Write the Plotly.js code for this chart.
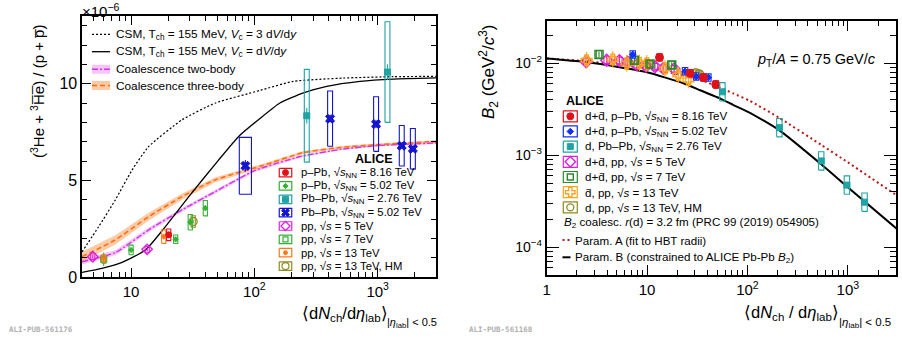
<!DOCTYPE html>
<html><head><meta charset="utf-8">
<script src="https://cdn.plot.ly/plotly-3.0.1.min.js"></script>
<style>html,body{margin:0;padding:0;background:#fff;}#chart{width:902px;height:344px;}</style>
</head><body><div id="chart"></div>
<script>
// ================= DATA : left panel  (3He+3He-bar)/(p+p-bar)  [x 1e-6] =================
const csm3_x = [4.0, 5.47, 7.46, 10.2, 13.9, 25.9, 48.3, 111, 207, 527, 1340, 3000];
const csm3_y = [1.30, 2.61, 3.99, 5.54, 6.75, 8.13, 9.00, 9.65, 10.12, 10.29, 10.36, 10.38];
const csm1_x = [4.0, 5.8, 8.46, 13.1, 19.0, 29.4, 51.4, 74.6, 111, 161, 250, 386, 719, 1340, 3000];
const csm1_y = [0.24, 0.45, 0.76, 1.40, 2.61, 4.16, 6.06, 7.27, 8.20, 9.00, 9.52, 9.86, 10.12, 10.24, 10.30];
const coal2_x = [4.0, 7.46, 13.9, 25.9, 48.3, 100, 235, 500, 1000, 3000];
const coal2_y = [0.79, 1.26, 2.44, 3.47, 4.42, 5.50, 6.23, 6.60, 6.80, 6.93];
const coal2_e = [0.14, 0.13, 0.12, 0.10, 0.09, 0.08, 0.06, 0.05, 0.05, 0.05];
const coal3_x = [4.0, 7.46, 13.9, 25.9, 48.3, 115, 250, 500, 977, 3000];
const coal3_y = [1.05, 1.92, 3.12, 4.16, 5.03, 5.75, 6.44, 6.70, 6.84, 7.01];
const coal3_e = [0.26, 0.24, 0.20, 0.16, 0.13, 0.10, 0.08, 0.07, 0.06, 0.06];

const L_ppb816_x = [20.2],  L_ppb816_y = [2.18], L_ppb816_st = [0.15], L_ppb816_sy = [0.30];
const L_ppb502_x = [10.0, 23.0, 30.2, 40.0], L_ppb502_y = [1.40, 1.95, 2.83, 3.56];
const L_ppb502_st = [0.10, 0.10, 0.15, 0.15], L_ppb502_sy = [0.25, 0.22, 0.40, 0.40];
const L_pbpb276_x = [266, 1200], L_pbpb276_y = [8.34, 10.6], L_pbpb276_st = [0.4, 0.4], L_pbpb276_sy = [2.40, 2.60];
const L_pbpb502_x = [84.5, 411, 970, 1567, 1928], L_pbpb502_y = [5.75, 8.19, 7.91, 6.79, 6.63];
const L_pbpb502_st = [0.30, 0.20, 0.20, 0.15, 0.15], L_pbpb502_sy = [1.47, 1.43, 1.41, 1.05, 1.05];
const L_pbpb502_xsys = [0.12, 0, 0, 0, 0];   // relative uncertainty on multiplicity
const L_pp5_x = [4.89, 13.5], L_pp5_y = [1.05, 1.43], L_pp5_st = [0.10, 0.10], L_pp5_sy = [0.15, 0.15];
const L_pp7_x = [6.0], L_pp7_y = [0.92], L_pp7_st = [0.35], L_pp7_sy = [0.20];
const L_pp13_x = [6.0, 18.4], L_pp13_y = [0.95, 2.09], L_pp13_st = [0.10, 0.15], L_pp13_sy = [0.18, 0.35];
const L_pp13hm_x = [31.9], L_pp13hm_y = [2.87], L_pp13hm_st = [0.10], L_pp13hm_sy = [0.30];

// ================= DATA : right panel  B2 (GeV^2/c^3) =================
const parA_x = [1, 2.32, 4.99, 10, 23, 40, 72.6, 106, 208, 543, 1000, 3040];
const parA_y = [0.0113, 0.0106, 0.0097, 0.0088, 0.0074, 0.0062, 0.0047, 0.0039, 0.00255, 0.0013, 0.00084, 0.00037];
const parB_x = [1, 2.32, 4.99, 10, 23, 33.8, 55.6, 72.6, 106, 207, 543, 979, 3100];
const parB_y = [0.0113, 0.0104, 0.0092, 0.0080, 0.00607, 0.0051, 0.00406, 0.00352, 0.0029, 0.00188, 0.00080, 0.00046, 0.000158];

const R_ppb816_x = [13.3, 26.8, 36.4, 48.4], R_ppb816_y = [0.0116, 0.0078, 0.0070, 0.0059];
const R_ppb502_x = [7.2, 23.9, 30.8, 40.8],  R_ppb502_y = [0.0125, 0.0082, 0.0072, 0.0070];
const R_pbpb_x = [56.3, 208, 543, 979, 1468], R_pbpb_y = [0.0049, 0.0020, 0.00087, 0.000475, 0.00031];
const R_pp5_x = [2.47, 3.96, 5.3, 6.42, 7.89, 9.77, 12.0, 14.5, 18.6];
const R_pp5_y = [0.0104, 0.0108, 0.0107, 0.0103, 0.0096, 0.0093, 0.0092, 0.0088, 0.0087];
const R_pp7_x = [3.32, 7.48, 10.7, 17.6], R_pp7_y = [0.0125, 0.0108, 0.0098, 0.0096];
const R_pp13_x = [2.5, 4.55, 6.27, 8.39, 9.93, 15.1, 20.5, 25.8];
const R_pp13_y = [0.0108, 0.0110, 0.0100, 0.0101, 0.0100, 0.0088, 0.00745, 0.0066];
const R_pp13hm_x = [30.5, 33.0], R_pp13hm_y = [0.0078, 0.0076];
// uncertainties in decades (log10)
const R_ppb816_sy = 0.04, R_ppb502_sy = 0.04, R_pbpb_sy = 0.10, R_pp5_sy = 0.035, R_pp7_sy = 0.04, R_pp13_sy = 0.035, R_pp13hm_sy = 0.035;
const R_ppb816_st = 0.03, R_ppb502_st = 0.04, R_pbpb_st = 0.02, R_pp5_st = 0.05, R_pp7_st = 0.03, R_pp13_st = 0.09, R_pp13hm_st = 0.02;

// ================= helpers =================
const W = 902, H = 344;
const px = v => v / W, py = v => 1 - v / H;
const FONT = 'Liberation Sans, Arial, sans-serif';
const AL = {x:'x', y:'y'}, AR = {x:'x2', y:'y2'};
const C = {red:'#e0101a', green:'#33b233', dgreen:'#2a8a2a', teal:'#1fa3a3', blue:'#1515d0', rblue:'#1030ff',
           mag:'#dd22dd', orange:'#ff7a1a', rorange:'#ffa21a', olive:'#8c8c22'};
const traces = [];

function band(xs, ys, es, fill, ax){
  const up = ys.map((v,i)=>v+es[i]), dn = ys.map((v,i)=>v-es[i]);
  traces.push({x: xs.concat(xs.slice().reverse()), y: up.concat(dn.slice().reverse()), mode:'lines', fill:'toself',
    fillcolor: fill, line:{width:0}, xaxis:ax.x, yaxis:ax.y, hoverinfo:'skip', showlegend:false});
}
function curve(xs, ys, color, width, dash, ax){
  traces.push({x:xs, y:ys, mode:'lines', line:{color, width, dash, shape:'spline', smoothing:0.5},
    xaxis:ax.x, yaxis:ax.y, hoverinfo:'skip', showlegend:false});
}
function boxes(xs, lo, hi, hw, color, ax, lw){
  const X = [], Y = [];
  xs.forEach((x,i)=>{
    const w = Array.isArray(hw) ? hw[i] : hw;
    const a = x*Math.pow(10,-w), b = x*Math.pow(10,w);
    X.push(a,b,b,a,a,null); Y.push(lo[i],lo[i],hi[i],hi[i],lo[i],null);
  });
  traces.push({x:X, y:Y, mode:'lines', line:{color, width:lw||1.1}, xaxis:ax.x, yaxis:ax.y, hoverinfo:'skip', showlegend:false});
}
function markers(xs, ys, errLo, errHi, sym, size, color, lw, ax){
  traces.push({x:xs, y:ys, mode:'markers', marker:{symbol:sym, size, color, line:{color, width:lw}},
    error_y:{type:'data', symmetric:false, array:errHi, arrayminus:errLo, visible:true, thickness:1.1, width:0, color},
    xaxis:ax.x, yaxis:ax.y, hoverinfo:'skip', showlegend:false});
}
function leftSet(xs, ys, st, sy, sym, size, color, lw, hw){
  boxes(xs, ys.map((v,i)=>v-sy[i]), ys.map((v,i)=>v+sy[i]), hw, color, AL);
  markers(xs, ys, st, st, sym, size, color, lw, AL);
}
function rightSet(xs, ys, sy, st, sym, size, color, lw){
  boxes(xs, ys.map(v=>v/Math.pow(10,sy)), ys.map(v=>v*Math.pow(10,sy)), 0.027, color, AR);
  markers(xs, ys, ys.map(v=>v-v/Math.pow(10,st)), ys.map(v=>v*Math.pow(10,st)-v), sym, size, color, lw, AR);
}

// ================= left panel =================
band(coal2_x, coal2_y, coal2_e, 'rgba(240,150,240,0.55)', AL);
band(coal3_x, coal3_y, coal3_e, 'rgba(255,160,90,0.55)', AL);
curve(coal2_x, coal2_y, '#cc33ee', 1.4, '6px,2px,2px,2px', AL);
curve(coal3_x, coal3_y, '#ff6a10', 1.5, '5px,3px', AL);
curve(csm3_x, csm3_y, '#000', 1.2, '2px,2px', AL);
curve(csm1_x, csm1_y, '#000', 1.3, 'solid', AL);

const hwL = 0.017;
leftSet(L_pp5_x, L_pp5_y, L_pp5_st, L_pp5_sy, 'diamond-open', 8, C.mag, 1.4, hwL);
leftSet(L_pp7_x, L_pp7_y, L_pp7_st, L_pp7_sy, 'square-open', 6, C.green, 1.2, hwL);
leftSet(L_pp13_x, L_pp13_y, L_pp13_st, L_pp13_sy, 'circle', 4, C.orange, 1, hwL);
leftSet(L_pp13hm_x, L_pp13hm_y, L_pp13hm_st, L_pp13hm_sy, 'circle-open', 8, C.olive, 1.3, hwL);
leftSet(L_ppb502_x, L_ppb502_y, L_ppb502_st, L_ppb502_sy, 'diamond', 4, C.green, 1, hwL);
leftSet(L_ppb816_x, L_ppb816_y, L_ppb816_st, L_ppb816_sy, 'circle', 6, C.red, 1, hwL);
leftSet(L_pbpb276_x, L_pbpb276_y, L_pbpb276_st, L_pbpb276_sy, 'square', 6, C.teal, 1, 0.02);
leftSet(L_pbpb502_x, L_pbpb502_y, L_pbpb502_st, L_pbpb502_sy, 'x', 8, C.blue, 1,
        L_pbpb502_xsys.map(r => r>0 ? Math.log10(1+r) : 0.02));

// ================= right panel =================
curve(parA_x, parA_y, '#b81818', 2, '2px,3px', AR);
curve(parB_x, parB_y, '#000', 2, 'solid', AR);
rightSet(R_pp5_x, R_pp5_y, R_pp5_sy, R_pp5_st, 'diamond-open', 9, C.mag, 1.5);
rightSet(R_pp13_x, R_pp13_y, R_pp13_sy, R_pp13_st, 'cross-open', 9, C.rorange, 1.4);
rightSet(R_pp7_x, R_pp7_y, R_pp7_sy, R_pp7_st, 'square-open', 8, C.dgreen, 1.5);
rightSet(R_pp13hm_x, R_pp13hm_y, R_pp13hm_sy, R_pp13hm_st, 'circle-open', 9, C.olive, 1.4);
rightSet(R_ppb502_x, R_ppb502_y, R_ppb502_sy, R_ppb502_st, 'diamond', 5, C.rblue, 1);
rightSet(R_ppb816_x, R_ppb816_y, R_ppb816_sy, R_ppb816_st, 'circle', 8, C.red, 1);
rightSet(R_pbpb_x, R_pbpb_y, R_pbpb_sy, R_pbpb_st, 'square', 6, C.teal, 1);

// ================= legends (pixel overlay) =================
const ann = [];
function txt(x, y, text, size, opts){
  ann.push(Object.assign({x:px(x), y:py(y), xref:'paper', yref:'paper', text, showarrow:false,
    xanchor:'left', yanchor:'middle', font:{family:FONT, size, color:'#000'}}, opts||{}));
}
function legIcon(cx, cy, w, h, color, sym, size, lw){
  traces.push({x:[cx-w/2,cx+w/2,cx+w/2,cx-w/2,cx-w/2], y:[cy-h/2,cy-h/2,cy+h/2,cy+h/2,cy-h/2], mode:'lines',
    line:{color, width:1.2}, xaxis:'x5', yaxis:'y5', hoverinfo:'skip', showlegend:false});
  traces.push({x:[cx], y:[cy], mode:'markers', marker:{symbol:sym, size, color, line:{color, width:lw}},
    xaxis:'x5', yaxis:'y5', hoverinfo:'skip', showlegend:false});
}
function legLine(x0, x1, y, color, width, dash){
  traces.push({x:[x0,x1], y:[y,y], mode:'lines', line:{color, width, dash}, xaxis:'x5', yaxis:'y5', hoverinfo:'skip', showlegend:false});
}
function legRect(x0, x1, y0, y1, fill){
  traces.push({x:[x0,x1,x1,x0,x0], y:[y0,y0,y1,y1,y0], mode:'lines', fill:'toself', fillcolor:fill, line:{width:0},
    xaxis:'x5', yaxis:'y5', hoverinfo:'skip', showlegend:false});
}

// left top legend
const ltY = [34.3, 51.7, 69.3, 85.5];
legLine(92, 110, ltY[0], '#000', 1.2, '2px,2px');
legLine(92, 110, ltY[1], '#000', 1.3, 'solid');
legRect(92, 110, ltY[2]-4.5, ltY[2]+4.5, 'rgba(240,150,240,0.55)');
legLine(92, 110, ltY[2], '#cc33ee', 1.4, '6px,2px,2px,2px');
legRect(92, 110, ltY[3]-4.5, ltY[3]+4.5, 'rgba(255,160,90,0.55)');
legLine(92, 110, ltY[3], '#ff6a10', 1.5, '5px,3px');
const ltT = ['CSM, T<sub>ch</sub> = 155 MeV, <i>V</i><sub>c</sub> = 3 d<i>V</i>/d<i>y</i>',
             'CSM, T<sub>ch</sub> = 155 MeV, <i>V</i><sub>c</sub> = d<i>V</i>/d<i>y</i>',
             'Coalescence two-body', 'Coalescence three-body'];
ltT.forEach((t,i)=>txt(113.5, ltY[i], t, 11.8));

// left bottom legend
const lbItems = [
  [C.red, 'circle', 6, 1, 'p–Pb, √<i>s</i><sub>NN</sub> = 8.16 TeV'],
  [C.green, 'diamond', 4, 1, 'p–Pb, √<i>s</i><sub>NN</sub> = 5.02 TeV'],
  [C.teal, 'square', 6, 1, 'Pb–Pb, √<i>s</i><sub>NN</sub> = 2.76 TeV'],
  [C.blue, 'x', 7, 1, 'Pb–Pb, √<i>s</i><sub>NN</sub> = 5.02 TeV'],
  [C.mag, 'diamond-open', 7, 1.3, 'pp, √<i>s</i> = 5 TeV'],
  [C.green, 'square-open', 5, 1.2, 'pp, √<i>s</i> = 7 TeV'],
  [C.orange, 'circle', 4, 1, 'pp, √<i>s</i> = 13 TeV'],
  [C.olive, 'circle-open', 7, 1.2, 'pp, √<i>s</i> = 13 TeV, HM']];
lbItems.forEach((it,i)=>{
  const y = 172.6 + i*13.35;
  legIcon(285.5, y, 12.5, 8.5, it[0], it[1], it[2], it[3]);
  txt(299, y, it[4], 11.3);
});
txt(374, 158.5, '<b>ALICE</b>', 12.5, {xanchor:'center'});

// right legend
const rItems = [
  [C.red, 'circle', 7, 1, 'd+d̄, p–Pb, √<i>s</i><sub>NN</sub> = 8.16 TeV'],
  [C.rblue, 'diamond', 5, 1, 'd+d̄, p–Pb, √<i>s</i><sub>NN</sub> = 5.02 TeV'],
  [C.teal, 'square', 6, 1, 'd, Pb–Pb, √<i>s</i><sub>NN</sub> = 2.76 TeV'],
  [C.mag, 'diamond-open', 8, 1.4, 'd+d̄, pp, √<i>s</i> = 5 TeV'],
  [C.dgreen, 'square-open', 6, 1.4, 'd+d̄, pp, √<i>s</i> = 7 TeV'],
  [C.rorange, 'cross-open', 8, 1.3, 'd̄, pp, √<i>s</i> = 13 TeV'],
  [C.olive, 'circle-open', 7, 1.3, 'd, pp, √<i>s</i> = 13 TeV, HM']];
rItems.forEach((it,i)=>{
  const y = 116.3 + i*15.17;
  legIcon(570.3, y, 14, 11, it[0], it[1], it[2], it[3]);
  txt(582.5, y, it[4], 11.6);
});
txt(585, 101, '<b>ALICE</b>', 12.5, {xanchor:'center'});
txt(561.5, 222.7, '<i>B</i><sub>2</sub> coalesc. <i>r</i>(d) = 3.2 fm (PRC 99 (2019) 054905)', 11.6);
legLine(562.5, 570, 240, '#b81818', 2, '2px,3px');
txt(572.5, 240, 'Param. A (fit to HBT radii)', 11.6);
legLine(562.5, 570.5, 257.3, '#000', 2, 'solid');
txt(572.5, 257.3, 'Param. B (constrained to ALICE Pb-Pb <i>B</i><sub>2</sub>)', 11.6);
txt(755, 60, '<i>p</i><sub>T</sub>/<i>A</i> = 0.75 GeV/<i>c</i>', 14.5);

// axis titles & misc text
txt(80, 10, '×10<sup>−6</sup>', 15);
txt(37, 92, '(<sup>3</sup>He + <sup>3</sup>H̅e̅) / (p + p̅)', 15, {xanchor:'center', textangle:-90});
txt(390, 314, '⟨d<i>N</i><sub>ch</sub>/d<i>η</i><sub>lab</sub>⟩', 16.5, {xanchor:'right'});
txt(385, 322.5, '|<i>η</i><sub>lab</sub>| &lt; 0.5', 11, {});
txt(488, 72, '<i>B</i><sub>2</sub> (GeV<sup>2</sup>/<i>c</i><sup>3</sup>)', 17, {xanchor:'center', textangle:-90});
txt(841, 313, '⟨d<i>N</i><sub>ch</sub> / d<i>η</i><sub>lab</sub>⟩', 16.5, {xanchor:'right'});
txt(837, 322.5, '|<i>η</i><sub>lab</sub>| &lt; 0.5', 11.5, {});
txt(7, 329, '<b>ALI-PUB-561176</b>', 7.5, {font:{family:'DejaVu Sans Mono, monospace', size:7.5, color:'#b0b0b0'}});
txt(467, 329, '<b>ALI-PUB-561168</b>', 7.5, {font:{family:'DejaVu Sans Mono, monospace', size:7.5, color:'#b0b0b0'}});

// ================= axes =================
const minorLog = (lo, hi) => { const v=[]; for(let e=lo;e<=hi;e++) for(let m=2;m<=9;m++) v.push(m*Math.pow(10,e)); return v; };
const axBase = {showgrid:false, zeroline:false, ticks:'inside', tickcolor:'#000', tickwidth:1, showline:true,
  linecolor:'#000', linewidth:1.6, mirror:'ticks', tickfont:{family:FONT, size:15, color:'#000'}, fixedrange:true};
const layout = {
  width: W, height: H, margin:{l:0, r:0, t:0, b:0}, paper_bgcolor:'#fff', plot_bgcolor:'rgba(0,0,0,0)',
  showlegend:false, annotations: ann,
  xaxis: Object.assign({}, axBase, {type:'log', domain:[82/W, 436/W], range:[Math.log10(4.0), Math.log10(2970)], anchor:'y',
    tickvals:[10,100,1000], ticktext:['10','10<sup>2</sup>','10<sup>3</sup>'], ticklen:9,
    minor:{tickvals:minorLog(0,3).filter(v=>v>=4 && v<=2970), ticklen:5, ticks:'inside', tickcolor:'#000', showgrid:false}}),
  yaxis: Object.assign({}, axBase, {domain:[1-277/H, 1-16/H], range:[0, 13.5], anchor:'x',
    tickvals:[0,5,10], ticktext:['0','5','10'], ticklen:9, tickfont:{family:FONT, size:16, color:'#000'},
    minor:{tickvals:[1,2,3,4,6,7,8,9,11,12,13], ticklen:5, ticks:'inside', tickcolor:'#000', showgrid:false}}),
  xaxis2: Object.assign({}, axBase, {type:'log', domain:[546.7/W, 896/W], range:[0, 3.48], anchor:'y2', linewidth:2,
    tickvals:[1,10,100,1000], ticktext:['1','10','10<sup>2</sup>','10<sup>3</sup>'], ticklen:10,
    minor:{tickvals:minorLog(0,3).filter(v=>v<=3000), ticklen:5, ticks:'inside', tickcolor:'#000', showgrid:false}}),
  yaxis2: Object.assign({}, axBase, {type:'log', domain:[1-275/H, 1-20.7/H], range:[-4.30, -1.537], anchor:'x2', linewidth:2,
    tickvals:[1e-4,1e-3,1e-2], ticktext:['10<sup>−4</sup>','10<sup>−3</sup>','10<sup>−2</sup>'], ticklen:12,
    tickfont:{family:FONT, size:14, color:'#000'},
    minor:{tickvals:minorLog(-5,-2).filter(v=>v>5.1e-5 && v<0.029), ticklen:6, ticks:'inside', tickcolor:'#000', showgrid:false}}),
  xaxis5: {domain:[0,1], range:[0,W], visible:false, anchor:'y5', fixedrange:true},
  yaxis5: {domain:[0,1], range:[H,0], visible:false, anchor:'x5', fixedrange:true}
};
Plotly.newPlot('chart', traces, layout, {staticPlot:true, displayModeBar:false});
</script></body></html>
